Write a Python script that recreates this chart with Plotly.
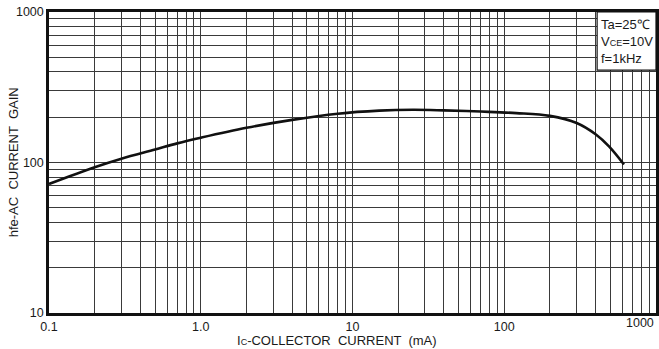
import plotly.graph_objects as go

# Curve data: Ic (mA) vs hfe
ic_ma = [0.1, 0.2, 0.3, 0.5, 0.7, 1.0, 2.0, 4.0, 8.0, 15, 25, 40, 70, 120, 200, 300, 400, 490, 615]
hfe = [72, 93, 106, 122, 134, 146, 170, 192, 211, 221, 224, 222, 218, 213, 204, 183, 154, 128, 97]

# grid / tick positions
x_decades = [0.1, 1, 10, 100, 1000]
x_labels = ["0.1", "1.0", "10", "100", ""]
y_decades = [10, 100, 1000]
y_labels = ["10", "100", "1000"]

x_grid = [m * 10.0 ** e for e in range(-1, 3) for m in range(1, 10)] + [1000]
y_grid = [m * 10.0 ** e for e in range(1, 3) for m in range(1, 10)] + [1000]


def labels_for(grid, decades, labels):
    out = []
    for v in grid:
        lab = ""
        for d, t in zip(decades, labels):
            if abs(v - d) < 1e-9:
                lab = t
        out.append(lab)
    return out


x_text = labels_for(x_grid, x_decades, x_labels)
y_text = labels_for(y_grid, y_decades, y_labels)

FONT = '"Liberation Sans", Arial, Helvetica, sans-serif'
TXT = "#1a1a1a"

fig = go.Figure()
fig.add_trace(go.Scatter(
    x=ic_ma, y=hfe, mode="lines",
    line=dict(color="#111111", width=2.6, shape="spline", smoothing=1.0),
    hoverinfo="skip", showlegend=False,
))

fig.update_layout(
    width=659, height=349,
    margin=dict(l=49, r=3, t=12, b=36),
    paper_bgcolor="white", plot_bgcolor="white",
    font=dict(family=FONT, size=12.5, color=TXT),
    showlegend=False,
)
fig.update_xaxes(
    type="log", range=[-1, 3],
    tickmode="array", tickvals=x_grid, ticktext=x_text,
    showgrid=True, gridcolor="#3a3a3a", gridwidth=1,
    showline=True, linecolor="#111111", linewidth=2.5, mirror=True,
    ticks="", zeroline=False, automargin=False,
    ticklabelstandoff=0,
    tickfont=dict(family=FONT, size=12.5, color=TXT),
)
fig.update_yaxes(
    type="log", range=[1, 3],
    tickmode="array", tickvals=y_grid, ticktext=y_text,
    showgrid=True, gridcolor="#3a3a3a", gridwidth=1,
    showline=True, linecolor="#111111", linewidth=2.5, mirror=True,
    ticks="", zeroline=False, automargin=False,
    tickfont=dict(family=FONT, size=12.5, color=TXT),
)

# Condition box
fig.add_shape(type="rect", xref="paper", yref="paper",
              x0=0.903, x1=1.0, y0=0.807, y1=1.0,
              fillcolor="white", line=dict(color="#111111", width=1.2), layer="above")
fig.add_annotation(
    xref="paper", yref="paper", x=0.906, y=0.99, xanchor="left", yanchor="top",
    text="Ta=25℃<br>V<span style='font-size:9px'>CE</span>=10V<br>f=1kHz",
    showarrow=False, align="left",
    font=dict(family=FONT, size=13, color=TXT),
)

# 1000 tick label on x (right-aligned at the axis end)
fig.add_annotation(
    xref="x", yref="paper", x=3, y=0, xanchor="right", yanchor="top", yshift=-1,
    text="1000", showarrow=False,
    font=dict(family=FONT, size=12.5, color=TXT),
)

# Axis titles
fig.add_annotation(
    xref="paper", yref="paper", x=0.474, y=-0.093, xanchor="center", yanchor="middle",
    text="I<span style='font-size:9px'>C</span>-COLLECTOR  CURRENT  (mA)", showarrow=False,
    font=dict(family=FONT, size=13, color=TXT),
)
fig.add_annotation(
    xref="paper", yref="paper", x=-0.058, y=0.5, xanchor="center", yanchor="middle",
    text="hfe-AC  CURRENT  GAIN", textangle=-90, showarrow=False,
    font=dict(family=FONT, size=13, color=TXT),
)

fig.write_html("out.html")
